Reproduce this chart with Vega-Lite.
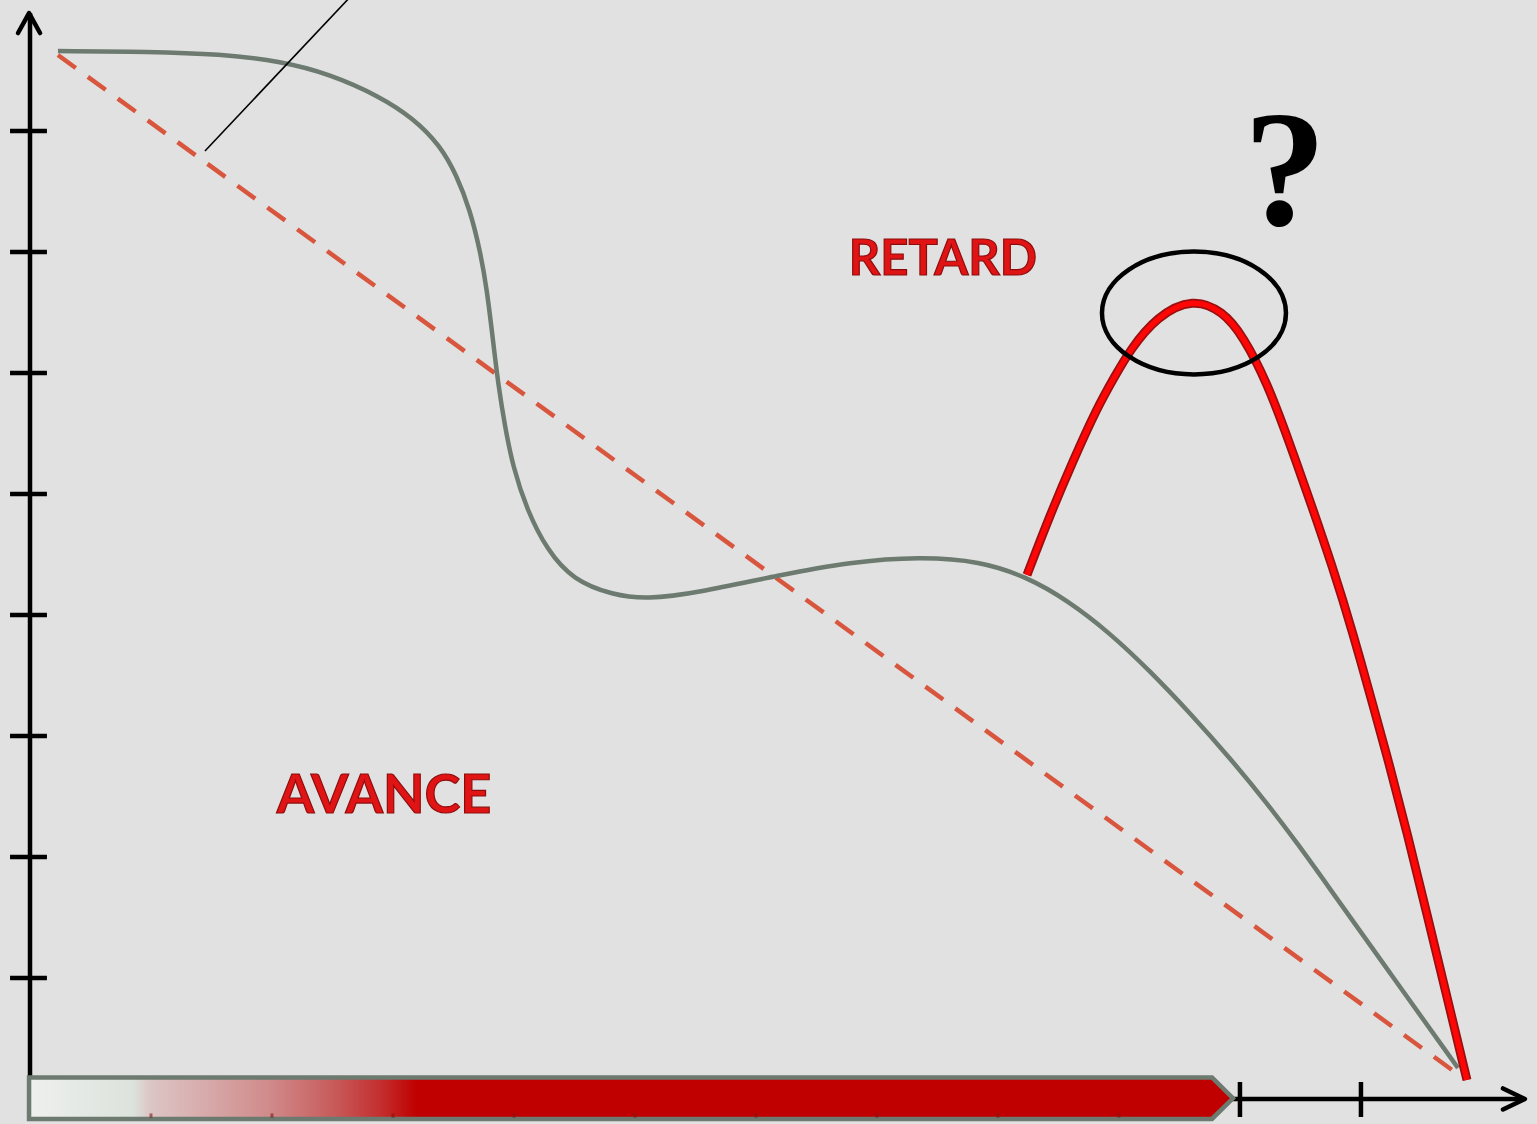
{
  "$schema": "https://vega.github.io/schema/vega-lite/v6.json",
  "width": 1537,
  "height": 1124,
  "padding": 0,
  "autosize": {"type": "none"},
  "background": "#e1e1e1",
  "config": {"view": {"stroke": null}},
  "datasets": {
    "axisRules": [
      {"part": "yaxis", "x": 0, "y": 0, "x2": 0, "y2": 8.975},
      {"part": "xaxis", "x": 0, "y": 0, "x2": 12.35, "y2": 0},
      {"part": "ytick", "x": -0.165, "y": 1, "x2": 0.14, "y2": 1},
      {"part": "ytick", "x": -0.165, "y": 2, "x2": 0.14, "y2": 2},
      {"part": "ytick", "x": -0.165, "y": 3, "x2": 0.14, "y2": 3},
      {"part": "ytick", "x": -0.165, "y": 4, "x2": 0.14, "y2": 4},
      {"part": "ytick", "x": -0.165, "y": 5, "x2": 0.14, "y2": 5},
      {"part": "ytick", "x": -0.165, "y": 6, "x2": 0.14, "y2": 6},
      {"part": "ytick", "x": -0.165, "y": 7, "x2": 0.14, "y2": 7},
      {"part": "ytick", "x": -0.165, "y": 8, "x2": 0.14, "y2": 8},
      {"part": "xtick", "x": 10, "y": 0.14, "x2": 10, "y2": -0.149},
      {"part": "xtick", "x": 11, "y": 0.14, "x2": 11, "y2": -0.149}
    ],
    "arrows": [
      {"arrow": "y", "ord": 1, "x": -0.099, "y": 8.81},
      {"arrow": "y", "ord": 2, "x": -0.008, "y": 8.975},
      {"arrow": "y", "ord": 3, "x": 0.083, "y": 8.81},
      {"arrow": "x", "ord": 1, "x": 12.174, "y": 0.087},
      {"arrow": "x", "ord": 2, "x": 12.355, "y": 0},
      {"arrow": "x", "ord": 3, "x": 12.174, "y": -0.087}
    ],
    "bar": [
      {"x": -0.008, "y": 0.178, "y2": -0.165},
      {"x": 9.769, "y": 0.178, "y2": -0.165},
      {"x": 9.942, "y": 0.006, "y2": 0.006}
    ],
    "barTicks": [
      {"x": 1, "y": -0.12, "y2": -0.155},
      {"x": 2, "y": -0.12, "y2": -0.155},
      {"x": 3, "y": -0.12, "y2": -0.155},
      {"x": 4, "y": -0.12, "y2": -0.155},
      {"x": 5, "y": -0.12, "y2": -0.155},
      {"x": 6, "y": -0.12, "y2": -0.155},
      {"x": 7, "y": -0.12, "y2": -0.155},
      {"x": 8, "y": -0.12, "y2": -0.155},
      {"x": 9, "y": -0.12, "y2": -0.155}
    ],
    "ideal": [
      {"x": 0.231, "y": 8.628},
      {"x": 11.752, "y": 0.24}
    ],
    "actual": [
      {"x": 0.231, "y": 8.661},
      {"x": 0.992, "y": 8.657},
      {"x": 1.57, "y": 8.636},
      {"x": 2.066, "y": 8.579},
      {"x": 2.479, "y": 8.471},
      {"x": 2.893, "y": 8.285},
      {"x": 3.165, "y": 8.107},
      {"x": 3.388, "y": 7.884},
      {"x": 3.529, "y": 7.628},
      {"x": 3.636, "y": 7.347},
      {"x": 3.719, "y": 7.017},
      {"x": 3.777, "y": 6.686},
      {"x": 3.826, "y": 6.273},
      {"x": 3.868, "y": 5.917},
      {"x": 3.926, "y": 5.554},
      {"x": 3.992, "y": 5.223},
      {"x": 4.107, "y": 4.868},
      {"x": 4.273, "y": 4.537},
      {"x": 4.488, "y": 4.289},
      {"x": 4.818, "y": 4.165},
      {"x": 5.099, "y": 4.13},
      {"x": 5.512, "y": 4.182},
      {"x": 6.198, "y": 4.331},
      {"x": 6.777, "y": 4.438},
      {"x": 7.355, "y": 4.482},
      {"x": 7.851, "y": 4.446},
      {"x": 8.24, "y": 4.314},
      {"x": 8.57, "y": 4.124},
      {"x": 8.926, "y": 3.851},
      {"x": 9.256, "y": 3.537},
      {"x": 9.587, "y": 3.19},
      {"x": 9.917, "y": 2.818},
      {"x": 10.223, "y": 2.446},
      {"x": 10.496, "y": 2.083},
      {"x": 10.686, "y": 1.818},
      {"x": 11.24, "y": 1.041},
      {"x": 11.802, "y": 0.256}
    ],
    "forecast": [
      {"x": 8.24, "y": 4.331},
      {"x": 8.43, "y": 4.826},
      {"x": 8.62, "y": 5.273},
      {"x": 8.818, "y": 5.711},
      {"x": 8.967, "y": 5.975},
      {"x": 9.091, "y": 6.19},
      {"x": 9.314, "y": 6.47},
      {"x": 9.612, "y": 6.62},
      {"x": 9.86, "y": 6.51},
      {"x": 10.025, "y": 6.306},
      {"x": 10.223, "y": 5.926},
      {"x": 10.413, "y": 5.413},
      {"x": 10.562, "y": 4.992},
      {"x": 10.769, "y": 4.388},
      {"x": 10.934, "y": 3.851},
      {"x": 11.099, "y": 3.256},
      {"x": 11.24, "y": 2.744},
      {"x": 11.38, "y": 2.207},
      {"x": 11.545, "y": 1.529},
      {"x": 11.711, "y": 0.843},
      {"x": 11.876, "y": 0.157}
    ],
    "pointer": [
      {"x": 1.446, "y": 7.835},
      {"x": 2.661, "y": 9.124}
    ],
    "peak": [
      {"x": 9.62, "y": 6.496}
    ],
    "labelRetard": [
      {"x": 7.545, "y": 6.81, "label": "RETARD"}
    ],
    "labelAvance": [
      {"x": 2.926, "y": 2.364, "label": "AVANCE"}
    ],
    "question": [
      {"x": 10.372, "y": 7.223, "label": "?"}
    ]
  },
  "layer": [
    {
      "data": {"name": "axisRules"},
      "mark": {"type": "rule", "color": "#000000", "strokeWidth": 4.5, "strokeCap": "butt"},
      "encoding": {
        "x": {"field": "x", "type": "quantitative", "scale": {"domain": [-0.248, 12.455], "nice": false, "zero": false}, "axis": null},
        "y": {"field": "y", "type": "quantitative", "scale": {"domain": [-0.207, 9.083], "nice": false, "zero": false}, "axis": null},
        "x2": {"field": "x2"},
        "y2": {"field": "y2"}
      }
    },
    {
      "data": {"name": "arrows"},
      "mark": {"type": "line", "color": "#000000", "strokeWidth": 4.5, "strokeCap": "round", "strokeJoin": "round"},
      "encoding": {
        "x": {"field": "x", "type": "quantitative", "scale": {"domain": [-0.248, 12.455], "nice": false, "zero": false}, "axis": null},
        "y": {"field": "y", "type": "quantitative", "scale": {"domain": [-0.207, 9.083], "nice": false, "zero": false}, "axis": null},
        "detail": {"field": "arrow"},
        "order": {"field": "ord"}
      }
    },
    {
      "data": {"name": "bar"},
      "mark": {
        "type": "area",
        "interpolate": "linear",
        "orient": "vertical",
        "stroke": "#6c7a70",
        "strokeWidth": 4.5,
        "strokeJoin": "miter",
        "fill": {
          "gradient": "linear",
          "x1": 0, "y1": 0, "x2": 1, "y2": 0,
          "stops": [
            {"offset": 0, "color": "#eef0ee"},
            {"offset": 0.087, "color": "#dce2dc"},
            {"offset": 0.1, "color": "#dcc6c6"},
            {"offset": 0.145, "color": "#d8abab"},
            {"offset": 0.2, "color": "#d08a8a"},
            {"offset": 0.254, "color": "#c85a5a"},
            {"offset": 0.292, "color": "#c42e2e"},
            {"offset": 0.322, "color": "#c00000"},
            {"offset": 1, "color": "#c00000"}
          ]
        },
        "fillOpacity": 1
      },
      "encoding": {
        "x": {"field": "x", "type": "quantitative", "scale": {"domain": [-0.248, 12.455], "nice": false, "zero": false}, "axis": null},
        "y": {"field": "y", "type": "quantitative", "scale": {"domain": [-0.207, 9.083], "nice": false, "zero": false}, "axis": null},
        "y2": {"field": "y2"}
      }
    },
    {
      "data": {"name": "barTicks"},
      "mark": {"type": "rule", "color": "#7d1515", "strokeWidth": 3, "opacity": 0.6},
      "encoding": {
        "x": {"field": "x", "type": "quantitative", "scale": {"domain": [-0.248, 12.455], "nice": false, "zero": false}, "axis": null},
        "y": {"field": "y", "type": "quantitative", "scale": {"domain": [-0.207, 9.083], "nice": false, "zero": false}, "axis": null},
        "y2": {"field": "y2"}
      }
    },
    {
      "data": {"name": "ideal"},
      "mark": {"type": "line", "color": "#d9563e", "strokeWidth": 4.5, "strokeDash": [22, 15], "strokeCap": "butt"},
      "encoding": {
        "x": {"field": "x", "type": "quantitative", "scale": {"domain": [-0.248, 12.455], "nice": false, "zero": false}, "axis": null},
        "y": {"field": "y", "type": "quantitative", "scale": {"domain": [-0.207, 9.083], "nice": false, "zero": false}, "axis": null}
      }
    },
    {
      "data": {"name": "actual"},
      "mark": {"type": "line", "color": "#6c7a70", "strokeWidth": 4.5, "interpolate": "basis", "strokeCap": "butt"},
      "encoding": {
        "x": {"field": "x", "type": "quantitative", "scale": {"domain": [-0.248, 12.455], "nice": false, "zero": false}, "axis": null},
        "y": {"field": "y", "type": "quantitative", "scale": {"domain": [-0.207, 9.083], "nice": false, "zero": false}, "axis": null}
      }
    },
    {
      "data": {"name": "forecast"},
      "mark": {"type": "line", "color": "#9a1010", "strokeWidth": 9, "interpolate": "basis", "strokeCap": "butt"},
      "encoding": {
        "x": {"field": "x", "type": "quantitative", "scale": {"domain": [-0.248, 12.455], "nice": false, "zero": false}, "axis": null},
        "y": {"field": "y", "type": "quantitative", "scale": {"domain": [-0.207, 9.083], "nice": false, "zero": false}, "axis": null}
      }
    },
    {
      "data": {"name": "forecast"},
      "mark": {"type": "line", "color": "#ff0606", "strokeWidth": 5.5, "interpolate": "basis", "strokeCap": "butt"},
      "encoding": {
        "x": {"field": "x", "type": "quantitative", "scale": {"domain": [-0.248, 12.455], "nice": false, "zero": false}, "axis": null},
        "y": {"field": "y", "type": "quantitative", "scale": {"domain": [-0.207, 9.083], "nice": false, "zero": false}, "axis": null}
      }
    },
    {
      "data": {"name": "peak"},
      "mark": {
        "type": "point",
        "filled": false,
        "shape": "M 1 0 C 1 0.369 0.552 0.668 0 0.668 C -0.552 0.668 -1 0.369 -1 0 C -1 -0.369 -0.552 -0.668 0 -0.668 C 0.552 -0.668 1 -0.369 1 0 Z",
        "size": 33856,
        "stroke": "#000000",
        "strokeWidth": 4.5,
        "opacity": 1
      },
      "encoding": {
        "x": {"field": "x", "type": "quantitative", "scale": {"domain": [-0.248, 12.455], "nice": false, "zero": false}, "axis": null},
        "y": {"field": "y", "type": "quantitative", "scale": {"domain": [-0.207, 9.083], "nice": false, "zero": false}, "axis": null}
      }
    },
    {
      "data": {"name": "pointer"},
      "mark": {"type": "line", "color": "#000000", "strokeWidth": 1.6},
      "encoding": {
        "x": {"field": "x", "type": "quantitative", "scale": {"domain": [-0.248, 12.455], "nice": false, "zero": false}, "axis": null},
        "y": {"field": "y", "type": "quantitative", "scale": {"domain": [-0.207, 9.083], "nice": false, "zero": false}, "axis": null}
      }
    },
    {
      "data": {"name": "labelRetard"},
      "mark": {
        "type": "text",
        "font": "Lato",
        "fontWeight": "bold",
        "fontSize": 49,
        "align": "center",
        "baseline": "alphabetic",
        "fill": "#e01414",
        "stroke": "#8c0c0c",
        "strokeWidth": 1.2
      },
      "encoding": {
        "x": {"field": "x", "type": "quantitative", "scale": {"domain": [-0.248, 12.455], "nice": false, "zero": false}, "axis": null},
        "y": {"field": "y", "type": "quantitative", "scale": {"domain": [-0.207, 9.083], "nice": false, "zero": false}, "axis": null},
        "text": {"field": "label"}
      }
    },
    {
      "data": {"name": "labelAvance"},
      "mark": {
        "type": "text",
        "font": "Lato",
        "fontWeight": "bold",
        "fontSize": 54,
        "align": "center",
        "baseline": "alphabetic",
        "fill": "#e01414",
        "stroke": "#8c0c0c",
        "strokeWidth": 1.2
      },
      "encoding": {
        "x": {"field": "x", "type": "quantitative", "scale": {"domain": [-0.248, 12.455], "nice": false, "zero": false}, "axis": null},
        "y": {"field": "y", "type": "quantitative", "scale": {"domain": [-0.207, 9.083], "nice": false, "zero": false}, "axis": null},
        "text": {"field": "label"}
      }
    },
    {
      "data": {"name": "question"},
      "mark": {
        "type": "text",
        "font": "Liberation Serif",
        "fontWeight": "bold",
        "fontSize": 165,
        "align": "center",
        "baseline": "alphabetic",
        "fill": "#000000"
      },
      "encoding": {
        "x": {"field": "x", "type": "quantitative", "scale": {"domain": [-0.248, 12.455], "nice": false, "zero": false}, "axis": null},
        "y": {"field": "y", "type": "quantitative", "scale": {"domain": [-0.207, 9.083], "nice": false, "zero": false}, "axis": null},
        "text": {"field": "label"}
      }
    }
  ]
}
